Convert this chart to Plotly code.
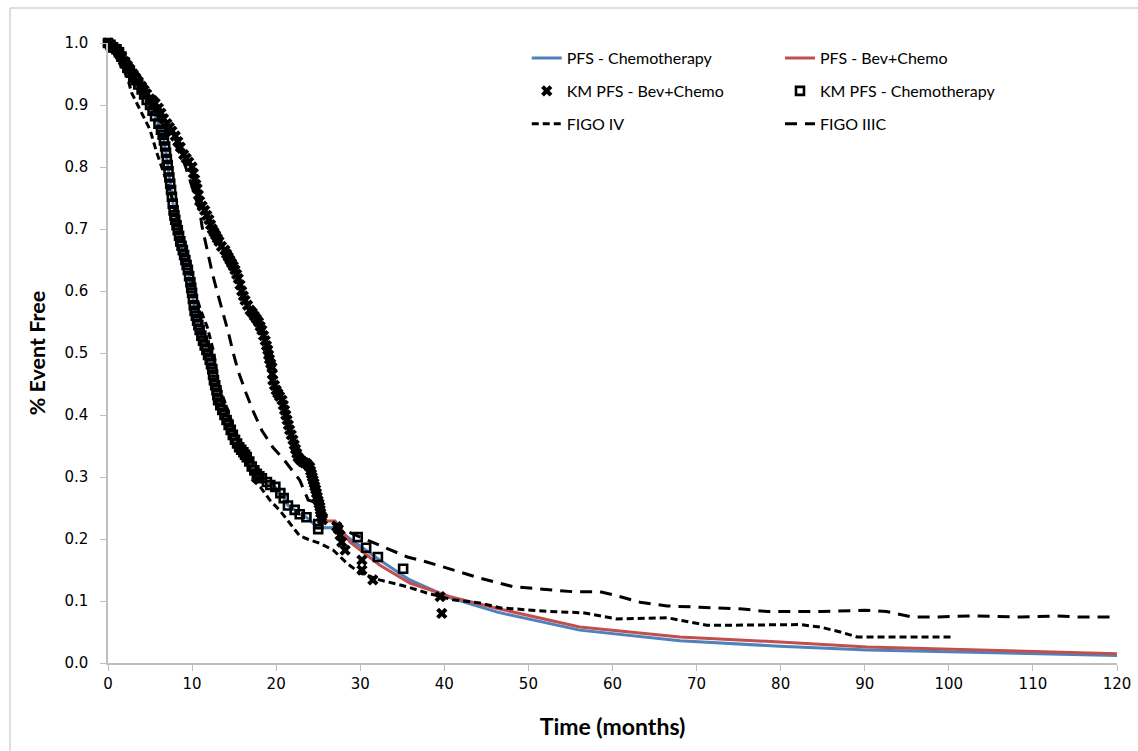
import plotly.graph_objects as go

# ---------------- data ----------------
# Kaplan-Meier PFS, chemotherapy arm (square markers)
km_chemo_x = [0, 0.3, 0.6, 1.0, 1.3, 1.6, 2.0, 2.3, 2.6, 3.0, 3.3, 3.6, 4.0, 4.3, 4.6, 5.0,
              5.3, 5.6, 6.0, 6.3, 6.5, 6.65, 6.8, 6.9, 7.0, 7.1, 7.2, 7.3, 7.4, 7.5, 7.6,
              7.7, 7.8, 7.9, 8.0, 8.15, 8.3, 8.45, 8.6, 8.75, 8.9, 9.05, 9.2, 9.35, 9.5,
              9.65, 9.8, 9.9, 10.0, 10.1, 10.2, 10.3, 10.45, 10.6, 10.75, 10.9, 11.1, 11.3,
              11.5, 11.7, 11.9, 12.1, 12.25, 12.4, 12.5, 12.6, 12.75, 12.9, 13.0, 13.1,
              13.35, 13.6, 13.85, 14.1, 14.35, 14.6, 14.85, 15.1, 15.35, 15.6, 15.85, 16.1,
              16.3, 16.5, 16.8, 17.1, 17.4, 17.7, 18.0, 18.3, 18.9, 19.3, 19.9, 20.5, 20.9,
              21.4, 22.2, 22.8, 23.6, 25.0, 25.0, 29.7, 30.7, 32.1, 35.1]
km_chemo_y = [1.0, 0.997, 0.993, 0.99, 0.985, 0.978, 0.968, 0.96, 0.953, 0.945, 0.94, 0.933,
              0.925, 0.917, 0.908, 0.9, 0.891, 0.882, 0.87, 0.86, 0.852, 0.843, 0.833, 0.823,
              0.813, 0.803, 0.793, 0.783, 0.773, 0.763, 0.752, 0.741, 0.73, 0.722, 0.715,
              0.706, 0.698, 0.689, 0.68, 0.673, 0.666, 0.658, 0.65, 0.642, 0.634, 0.624,
              0.614, 0.605, 0.597, 0.587, 0.577, 0.568, 0.56, 0.552, 0.545, 0.537, 0.528,
              0.52, 0.512, 0.505, 0.497, 0.489, 0.482, 0.474, 0.465, 0.456, 0.448, 0.44,
              0.432, 0.424, 0.416, 0.408, 0.4, 0.392, 0.384, 0.376, 0.368, 0.36, 0.354,
              0.348, 0.344, 0.34, 0.336, 0.332, 0.325, 0.317, 0.311, 0.305, 0.301, 0.298,
              0.292, 0.287, 0.284, 0.274, 0.266, 0.254, 0.247, 0.24, 0.235, 0.224, 0.216,
              0.203, 0.186, 0.171, 0.152]

# Kaplan-Meier PFS, Bev+Chemo arm (x markers)
km_bev_x = [0, 0.3, 0.6, 1.0, 1.3, 1.6, 2.0, 2.3, 2.6, 3.0, 3.3, 3.6, 4.0, 4.3, 4.6, 5.0, 5.3,
            5.6, 6.0, 6.3, 6.6, 7.0, 7.3, 7.6, 8.0, 8.3, 8.6, 9.0, 9.3, 9.6, 10.0, 10.15,
            10.3, 10.45, 10.6, 10.75, 10.9, 11.2, 11.5, 11.75, 12.0, 12.2, 12.4, 12.6, 12.8,
            13.0, 13.2, 13.5, 13.9, 14.1, 14.3, 14.5, 14.7, 14.9, 15.1, 15.3, 15.5, 15.7,
            15.9, 16.1, 16.3, 16.6, 16.9, 17.15, 17.4, 17.65, 17.9, 18.1, 18.3, 18.5, 18.7,
            18.85, 19.0, 19.1, 19.2, 19.35, 19.5, 19.55, 19.6, 19.8, 20.0, 20.2, 20.4, 20.7,
            20.85, 21.0, 21.15, 21.3, 21.45, 21.6, 21.8, 22.0, 22.15, 22.3, 22.45, 22.6,
            22.85, 23.1, 23.35, 23.6, 23.8, 24.0, 24.1, 24.2, 24.3, 24.4, 24.5, 24.6, 24.7,
            24.8, 24.9, 25.0, 25.1, 25.2, 25.25, 25.3, 25.4, 25.5, 27.2, 27.4, 27.6, 27.8,
            28.2, 30.2, 30.2, 31.5, 39.5, 39.7]
km_bev_y = [1.0, 0.997, 0.993, 0.99, 0.985, 0.978, 0.97, 0.964, 0.958, 0.95, 0.944, 0.938,
            0.93, 0.924, 0.918, 0.91, 0.907, 0.903, 0.895, 0.887, 0.878, 0.87, 0.864, 0.858,
            0.85, 0.841, 0.832, 0.82, 0.814, 0.808, 0.8, 0.79, 0.78, 0.772, 0.765, 0.755,
            0.745, 0.737, 0.73, 0.722, 0.715, 0.707, 0.7, 0.695, 0.69, 0.685, 0.68, 0.672,
            0.666, 0.66, 0.655, 0.65, 0.645, 0.64, 0.634, 0.627, 0.62, 0.61, 0.6, 0.592,
            0.585, 0.577, 0.569, 0.565, 0.56, 0.555, 0.55, 0.543, 0.537, 0.528, 0.52, 0.512,
            0.505, 0.497, 0.49, 0.483, 0.477, 0.466, 0.456, 0.448, 0.44, 0.435, 0.43, 0.424,
            0.416, 0.408, 0.4, 0.392, 0.384, 0.376, 0.368, 0.36, 0.352, 0.345, 0.338, 0.332,
            0.328, 0.325, 0.323, 0.322, 0.319, 0.316, 0.31, 0.305, 0.3, 0.295, 0.29, 0.285,
            0.28, 0.274, 0.268, 0.262, 0.257, 0.252, 0.247, 0.242, 0.236, 0.231, 0.22,
            0.216, 0.206, 0.195, 0.182, 0.166, 0.15, 0.134, 0.107, 0.08]

# Parametric PFS model curves beyond the KM segment
pfs_chemo_tail_x = [25.0, 27.0, 28.8, 32.3, 35.9, 40.7, 46.3, 56.1, 68.0, 79.9, 90.3, 120.0]
pfs_chemo_tail_y = [0.218, 0.218, 0.2, 0.166, 0.134, 0.105, 0.082, 0.053, 0.036, 0.027, 0.021, 0.012]
pfs_bev_tail_x = [25.5, 27.0, 28.8, 32.3, 35.9, 40.7, 46.3, 56.1, 68.0, 79.9, 90.3, 120.0]
pfs_bev_tail_y = [0.229, 0.229, 0.195, 0.158, 0.129, 0.107, 0.088, 0.058, 0.042, 0.034, 0.026, 0.015]

# FIGO stage curves
figo4_x = [0, 1.0, 2.3, 2.8, 3.8, 5.0, 5.8, 6.4, 6.8, 7.4, 8.0, 8.8, 9.6, 10.3, 11.0, 11.8,
           12.6, 13.1, 14.2, 15.2, 15.9, 16.9, 17.2, 18.1, 19.3, 20.5, 21.3, 22.8, 23.7,
           25.2, 26.8, 28.4, 30.0, 32.3, 35.6, 37.9, 41.0, 44.2, 46.6, 52.6, 56.5, 60.5,
           66.5, 71.2, 74.3, 82.3, 84.7, 87.1, 89.1, 100.5]
figo4_y = [1.0, 0.975, 0.945, 0.92, 0.892, 0.86, 0.823, 0.8, 0.784, 0.76, 0.73, 0.69, 0.65,
           0.6, 0.57, 0.542, 0.5, 0.45, 0.41, 0.37, 0.335, 0.31, 0.295, 0.284, 0.262, 0.245,
           0.231, 0.205, 0.2, 0.193, 0.182, 0.161, 0.145, 0.134, 0.123, 0.113, 0.102, 0.097,
           0.089, 0.083, 0.081, 0.071, 0.073, 0.061, 0.061, 0.062, 0.058, 0.05, 0.042, 0.042]
figo3c_x = [0, 3.0, 6.0, 9.0, 10.9, 11.2, 11.8, 12.4, 13.0, 13.7, 14.3, 14.9, 15.5, 16.4,
            17.3, 18.3, 19.6, 20.8, 22.0, 22.8, 23.8, 24.9, 26.4, 28.0, 30.0, 32.3, 35.6,
            37.9, 41.0, 44.2, 48.2, 52.6, 55.3, 58.5, 60.1, 63.3, 66.5, 70.4, 75.5, 78.4,
            85.0, 90.0, 92.6, 95.7, 98.1, 102.9, 108.5, 112.9, 115.6, 120.0]
figo3c_y = [1.0, 0.945, 0.89, 0.81, 0.73, 0.703, 0.666, 0.629, 0.598, 0.565, 0.534, 0.5,
            0.47, 0.436, 0.405, 0.375, 0.348, 0.33, 0.31, 0.295, 0.263, 0.258, 0.231, 0.215,
            0.203, 0.19, 0.171, 0.163, 0.15, 0.137, 0.123, 0.118, 0.115, 0.115, 0.11, 0.098,
            0.092, 0.09, 0.087, 0.083, 0.083, 0.085, 0.083, 0.074, 0.074, 0.076, 0.074, 0.076,
            0.074, 0.074]

# model curves follow the KM data before the extrapolated tail
pfs_chemo_x = [x for x in km_chemo_x if x < 25.0] + pfs_chemo_tail_x
pfs_chemo_y = [y for x, y in zip(km_chemo_x, km_chemo_y) if x < 25.0] + pfs_chemo_tail_y
pfs_bev_x = [x for x in km_bev_x if x < 25.5] + pfs_bev_tail_x
pfs_bev_y = [y for x, y in zip(km_bev_x, km_bev_y) if x < 25.5] + pfs_bev_tail_y

x_ticks = list(range(0, 121, 10))
y_ticks = [round(i * 0.1, 1) for i in range(11)]

BLUE = "#4F81BD"
RED = "#C0504D"
LEG_FONT = dict(family="Lato", size=16, color="#000000")

fig = go.Figure()
fig.add_trace(go.Scatter(x=pfs_chemo_x, y=pfs_chemo_y, mode="lines", name="PFS - Chemotherapy",
                         line=dict(color=BLUE, width=3), legend="legend", legendgroup="a"))
fig.add_trace(go.Scatter(x=pfs_bev_x, y=pfs_bev_y, mode="lines", name="PFS - Bev+Chemo",
                         line=dict(color=RED, width=3), legend="legend2", legendgroup="b"))
fig.add_trace(go.Scatter(x=km_bev_x, y=km_bev_y, mode="markers", name="KM PFS - Bev+Chemo",
                         marker=dict(symbol="x", size=10, color="#000000", line=dict(width=0)),
                         cliponaxis=False, legend="legend", legendgroup="c"))
fig.add_trace(go.Scatter(x=km_chemo_x, y=km_chemo_y, mode="markers", name="KM PFS - Chemotherapy",
                         marker=dict(symbol="square-open", size=8, color="#000000",
                                     line=dict(width=2.6, color="#000000")),
                         cliponaxis=False, legend="legend2", legendgroup="d"))
fig.add_trace(go.Scatter(x=figo4_x, y=figo4_y, mode="lines", name="FIGO IV",
                         line=dict(color="#000000", width=3, dash="7px,4px"),
                         legend="legend", legendgroup="e"))
fig.add_trace(go.Scatter(x=figo3c_x, y=figo3c_y, mode="lines", name="FIGO IIIC",
                         line=dict(color="#000000", width=3, dash="12px,8px"),
                         legend="legend2", legendgroup="f"))

leg_common = dict(font=LEG_FONT, bgcolor="rgba(0,0,0,0)", borderwidth=0,
                  orientation="v", xanchor="left", yanchor="top", tracegroupgap=9,
                  itemwidth=30)
fig.update_layout(
    width=1138, height=751,
    margin=dict(l=108, r=21, t=43, b=88),
    paper_bgcolor="white", plot_bgcolor="white",
    showlegend=True,
    legend=dict(x=0.415, y=1.003, **leg_common),
    legend2=dict(x=0.666, y=1.003, **leg_common),
    xaxis=dict(range=[0, 120], tickvals=x_ticks, ticktext=[str(v) for v in x_ticks],
               showgrid=False, zeroline=False, showline=True, linecolor="#BFBFBF",
               linewidth=1.5, ticks="outside", ticklen=6, tickcolor="#BFBFBF",
               tickfont=dict(family="DejaVu Sans", size=15, color="#000000"),
               title=dict(text="<b>Time (months)</b>", standoff=27,
                          font=dict(family="Lato", size=23, color="#000000")),
               automargin=False),
    yaxis=dict(range=[0, 1.0], tickvals=y_ticks, ticktext=[f"{v:.1f}" for v in y_ticks],
               showgrid=False, zeroline=False, showline=True, linecolor="#BFBFBF",
               linewidth=1.5, ticks="outside", ticklen=6, tickcolor="#BFBFBF",
               ticklabelstandoff=9,
               tickfont=dict(family="DejaVu Sans", size=15, color="#000000"),
               title=dict(text="<b>% Event Free</b>", standoff=13,
                          font=dict(family="Lato", size=21.5, color="#000000")),
               automargin=False),
    shapes=[
        dict(type="line", xref="paper", yref="paper",
             x0=(10 - 108) / 1009, x1=(10 - 108) / 1009,
             y0=(663 - 760) / 620, y1=(663 - 8) / 620,
             line=dict(color="#BFBFBF", width=1)),
        dict(type="line", xref="paper", yref="paper",
             x0=(10 - 108) / 1009, x1=(1140 - 108) / 1009,
             y0=(663 - 8) / 620, y1=(663 - 8) / 620,
             line=dict(color="#BFBFBF", width=1)),
    ],
)

fig.write_html("out.html")
